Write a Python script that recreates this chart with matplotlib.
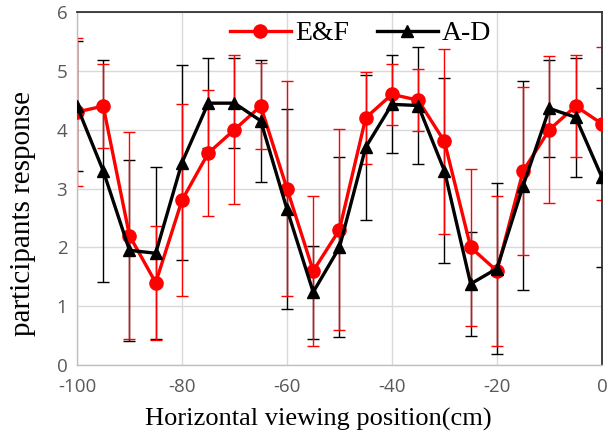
import matplotlib
matplotlib.use("Agg")
import matplotlib.pyplot as plt

positions = [-100, -95, -90, -85, -80, -75, -70, -65, -60, -55, -50,
             -45, -40, -35, -30, -25, -20, -15, -10, -5, 0]

ef_values = [4.3, 4.4, 2.2, 1.4, 2.8, 3.6, 4.0, 4.4, 3.0, 1.6, 2.3,
             4.2, 4.6, 4.5, 3.8, 2.0, 1.6, 3.3, 4.0, 4.4, 4.1]
ef_errors = [1.25, 0.72, 1.76, 0.97, 1.63, 1.07, 1.26, 0.73, 1.83, 1.27, 1.71,
             0.78, 0.52, 0.53, 1.57, 1.33, 1.27, 1.43, 1.25, 0.86, 1.30]

ad_values = [4.4, 3.3, 1.95, 1.9, 3.44, 4.45, 4.45, 4.15, 2.65, 1.24, 2.0,
             3.7, 4.43, 4.41, 3.3, 1.38, 1.64, 3.05, 4.36, 4.21, 3.19]
ad_errors = [1.1, 1.88, 1.54, 1.46, 1.66, 0.76, 0.77, 1.04, 1.70, 0.79, 1.53,
             1.23, 0.83, 0.99, 1.57, 0.88, 1.46, 1.77, 0.82, 1.01, 1.52]

xticks = [-100, -80, -60, -40, -20, 0]
yticks = [0, 1, 2, 3, 4, 5, 6]

fig = plt.figure(figsize=(6.08, 4.42), dpi=100)
ax = fig.add_axes([0.1266, 0.174, 0.8634, 0.799])

ax.errorbar(positions, ad_values, yerr=ad_errors, fmt='none', ecolor='black',
            elinewidth=1.0, capsize=4.5, capthick=1.0, zorder=2)
ax.errorbar(positions, ef_values, yerr=ef_errors, fmt='none', ecolor='red',
            elinewidth=1.0, capsize=4.5, capthick=1.0, zorder=2)

ax.plot(positions, ef_values, color='red', lw=2.4, marker='o', ms=9.5,
        label='E&F', zorder=3)
ax.plot(positions, ad_values, color='black', lw=2.4, marker='^', ms=8.5,
        label='A-D', zorder=4)

ax.set_xlim(-100, 0)
ax.set_ylim(0, 6)
ax.set_xticks(xticks)
ax.set_yticks(yticks)
ax.set_xticklabels([str(t) for t in xticks])
ax.set_yticklabels([str(t) for t in yticks])
ax.grid(True, color='#d9d9d9', lw=1.0)
ax.set_axisbelow(True)
ax.tick_params(length=0, labelsize=13.5, labelcolor='#595959')
ax.tick_params(axis='x', pad=9)
ax.tick_params(axis='y', pad=7)
for lab in ax.get_xticklabels() + ax.get_yticklabels():
    lab.set_family('Open Sans')

for s in ['left', 'bottom']:
    ax.spines[s].set_color('#bfbfbf')
    ax.spines[s].set_linewidth(1.0)
for s in ['top', 'right']:
    ax.spines[s].set_color('#333333')
    ax.spines[s].set_linewidth(1.3)

ax.set_xlabel('Horizontal viewing position(cm)', family='Liberation Serif',
              fontsize=19)
ax.xaxis.set_label_coords(0.46, -0.122)
ax.set_ylabel('participants response', family='Liberation Serif',
              fontsize=21)
ax.yaxis.set_label_coords(-0.078, 0.43)

leg = ax.legend(loc='upper center', bbox_to_anchor=(0.54, 1.045), ncol=2,
                frameon=False, prop={'family': 'Liberation Serif', 'size': 20},
                handlelength=2.2, handletextpad=0.15, columnspacing=1.0)

fig.savefig('out.png', dpi=100)
